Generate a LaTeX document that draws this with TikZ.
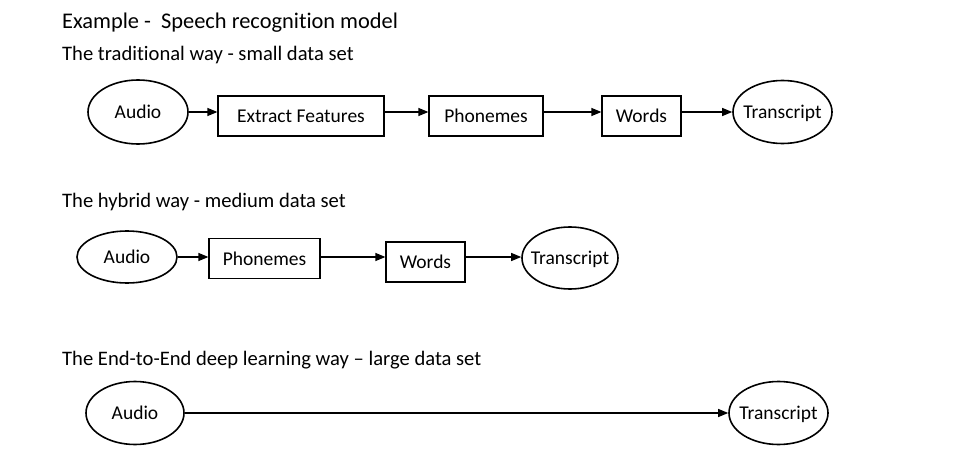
\documentclass[tikz,border=0pt]{standalone}
\usepackage{fontspec}
\setmainfont{Carlito}[Ligatures={TeX,NoCommon}]
\usetikzlibrary{shapes.geometric,arrows.meta}

\begin{document}
\begin{tikzpicture}[x=1pt,y=-1pt,
    every node/.style={font=\fontsize{19.5}{23}\selectfont},
    oval/.style={draw,ellipse,line width=1.6pt,inner xsep=-10pt,text depth=0pt,minimum height=63pt},
    stage/.style={draw,rectangle,line width=1.2pt,text depth=0pt,minimum height=40pt},
    flow/.style={-{Triangle[length=10pt,width=8pt]},line width=1.2pt},
    heading/.style={anchor=base west,inner sep=0pt,font=\fontsize{20.6}{24}\selectfont}]
    \useasboundingbox (0,0) rectangle (962,460);

    \node[heading,font=\fontsize{22.4}{26}\selectfont] (title) at (62,29) {Example -\ \ Speech recognition model};
    \node[heading] (trad) at (62,61) {The traditional way - small data set};
    \node[heading] (hyb) at (62,207) {The hybrid way - medium data set};
    \node[heading] (e2e) at (62,365) {The End-to-End deep learning way -- large data set};

    \node[oval,minimum width=100pt,minimum height=64pt] (au1) at (138,112) {Audio};
    \node[stage,minimum width=166pt] (ex1) at (301,116) {Extract Features};
    \node[stage,minimum width=114pt] (ph1) at (486,116) {Phonemes};
    \node[stage,minimum width=79pt] (wo1) at (641.5,116) {Words};
    \node[oval,minimum width=99pt] (tr1) at (782.5,112) {Transcript};
    \draw[flow](au1.east)--(ex1.west |- au1.east);
    \draw[flow](ex1.east |- au1)--(ph1.west |- au1);
    \draw[flow](ph1.east |- au1)--(wo1.west |- au1);
    \draw[flow](wo1.east |- au1)--(tr1.west);

    \node[oval,minimum width=100pt,minimum height=52pt] (au2) at (127,257) {Audio};
    \node[stage,minimum width=111pt] (ph2) at (264.5,258.5) {Phonemes};
    \node[stage,minimum width=79pt] (wo2) at (425.5,262) {Words};
    \node[oval,minimum width=96pt,minimum height=62pt] (tr2) at (570,258) {Transcript};
    \draw[flow](au2.east)--(ph2.west |- au2.east);
    \draw[flow](ph2.east |- au2)--(wo2.west |- au2);
    \draw[flow](wo2.east |- au2)--(tr2.west |- au2);

    \node[oval,minimum width=98pt] (au3) at (135,413) {Audio};
    \node[oval,minimum width=99pt] (tr3) at (778.5,413) {Transcript};
    \draw[flow](au3)--(tr3);
\end{tikzpicture}
\end{document}
